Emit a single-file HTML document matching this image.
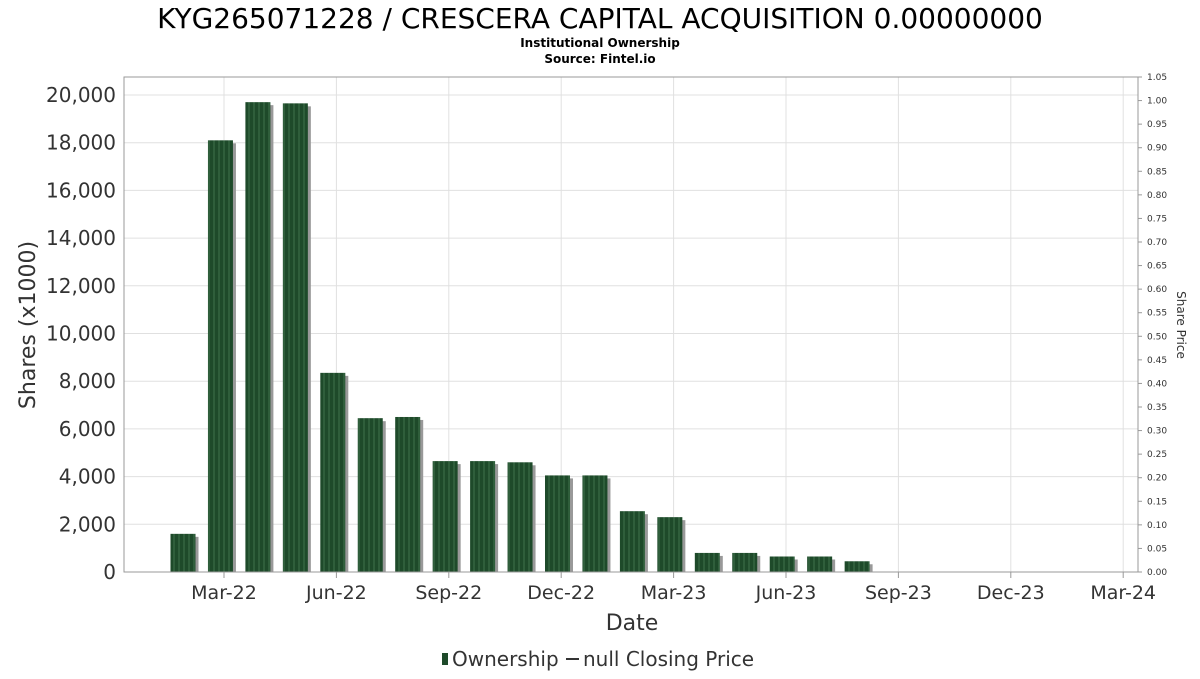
<!DOCTYPE html>
<html><head><meta charset="utf-8">
<style>
body{margin:0;background:#fff;font-family:"DejaVu Sans","Liberation Sans",sans-serif;}
svg text{font-family:"DejaVu Sans","Liberation Sans",sans-serif;}
</style></head>
<body>
<svg id="c" width="1200" height="675" xmlns="http://www.w3.org/2000/svg">
<defs>
<pattern id="stripe" width="5" height="10" patternUnits="userSpaceOnUse">
<rect width="5" height="10" fill="#1e4a2a"/><rect x="3" width="2" height="10" fill="#2f5e3b"/>
</pattern>
</defs>
<text x="600" y="28" text-anchor="middle" font-size="28" fill="#000">KYG265071228 / CRESCERA CAPITAL ACQUISITION 0.00000000</text>
<text x="600" y="47" text-anchor="middle" font-size="12" font-weight="bold" fill="#000">Institutional Ownership</text>
<text x="600" y="63" text-anchor="middle" font-size="12" font-weight="bold" fill="#000">Source: Fintel.io</text>
<g id="grid"></g>
<g id="bars"></g>
<g id="axes"></g>
<text x="632" y="630" text-anchor="middle" font-size="22" fill="#333">Date</text>
<text transform="translate(35,325) rotate(-90)" text-anchor="middle" font-size="22" fill="#333">Shares (x1000)</text>
<text transform="translate(1177,325) rotate(90)" text-anchor="middle" font-size="12" fill="#333">Share Price</text>
<g>
<rect x="442" y="653" width="6" height="12" fill="#1e4a2a"/>
<text x="452" y="666" font-size="20" fill="#333">Ownership</text>
<line x1="566" y1="659" x2="579" y2="659" stroke="#333" stroke-width="2"/>
<text x="583" y="666" font-size="20" fill="#333">null Closing Price</text>
</g>
</svg>
<script>
const barValues=[1600,18100,19700,19650,8350,6450,6500,4650,4650,4600,4050,4050,2550,2300,800,800,650,650,450];
const yTicks=[0,2000,4000,6000,8000,10000,12000,14000,16000,18000,20000];
const y2Ticks=["0.00","0.05","0.10","0.15","0.20","0.25","0.30","0.35","0.40","0.45","0.50","0.55","0.60","0.65","0.70","0.75","0.80","0.85","0.90","0.95","1.00","1.05"];
const xLabels=["Mar-22","Jun-22","Sep-22","Dec-22","Mar-23","Jun-23","Sep-23","Dec-23","Mar-24"];
const NS="http://www.w3.org/2000/svg";
const L=124,R=1138,T=77,B=572;
const y=v=>B-v*(477/20000);
const y2=v=>B-v*((B-T)/1.05);
const xt=i=>224+i*112.4;
const xb=i=>183+i*37.45;
function mk(tag,attrs,parent,txt){const e=document.createElementNS(NS,tag);for(const k in attrs)e.setAttribute(k,attrs[k]);if(txt!==undefined)e.textContent=txt;document.getElementById(parent).appendChild(e);return e;}
mk('rect',{x:L,y:T,width:R-L,height:B-T,fill:'none',stroke:'#999'},'axes');
yTicks.forEach(v=>{
 const g=mk('line',{x1:L,x2:R,y1:y(v),y2:y(v),stroke:'#e0e0e0'},'grid');
 
 
 const t=mk('text',{x:L-8,y:y(v)+7,'text-anchor':'end','font-size':20,fill:'#333'},'axes',v.toLocaleString('en-US'));
 
 
});
y2Ticks.forEach(s=>{
 const v=parseFloat(s);
 mk('line',{x1:R,x2:R+4,y1:y2(v),y2:y2(v),stroke:'#999'},'axes');
 const t=mk('text',{x:R+9,y:y2(v)+3,'font-size':9,fill:'#333'},'axes',s);
 
 
});
xLabels.forEach((s,i)=>{
 const g=mk('line',{x1:xt(i),x2:xt(i),y1:T,y2:B,stroke:'#e0e0e0'},'grid');
 
 
 mk('line',{x1:xt(i),x2:xt(i),y1:B,y2:B+6,stroke:'#999'},'axes');
 const t=mk('text',{x:xt(i),y:599,'text-anchor':'middle','font-size':19,fill:'#333'},'axes',s);
 
 
});
barValues.forEach((v,i)=>{
 const cx=xb(i),w=25;
 mk('rect',{x:cx-w/2+3,y:y(v)+3,width:w,height:B-y(v)-3,fill:'#999'},'bars');
 const b=mk('rect',{x:cx-w/2,y:y(v),width:w,height:B-y(v),fill:'url(#stripe)'},'bars');
 
 
});
</script>
</body></html>
